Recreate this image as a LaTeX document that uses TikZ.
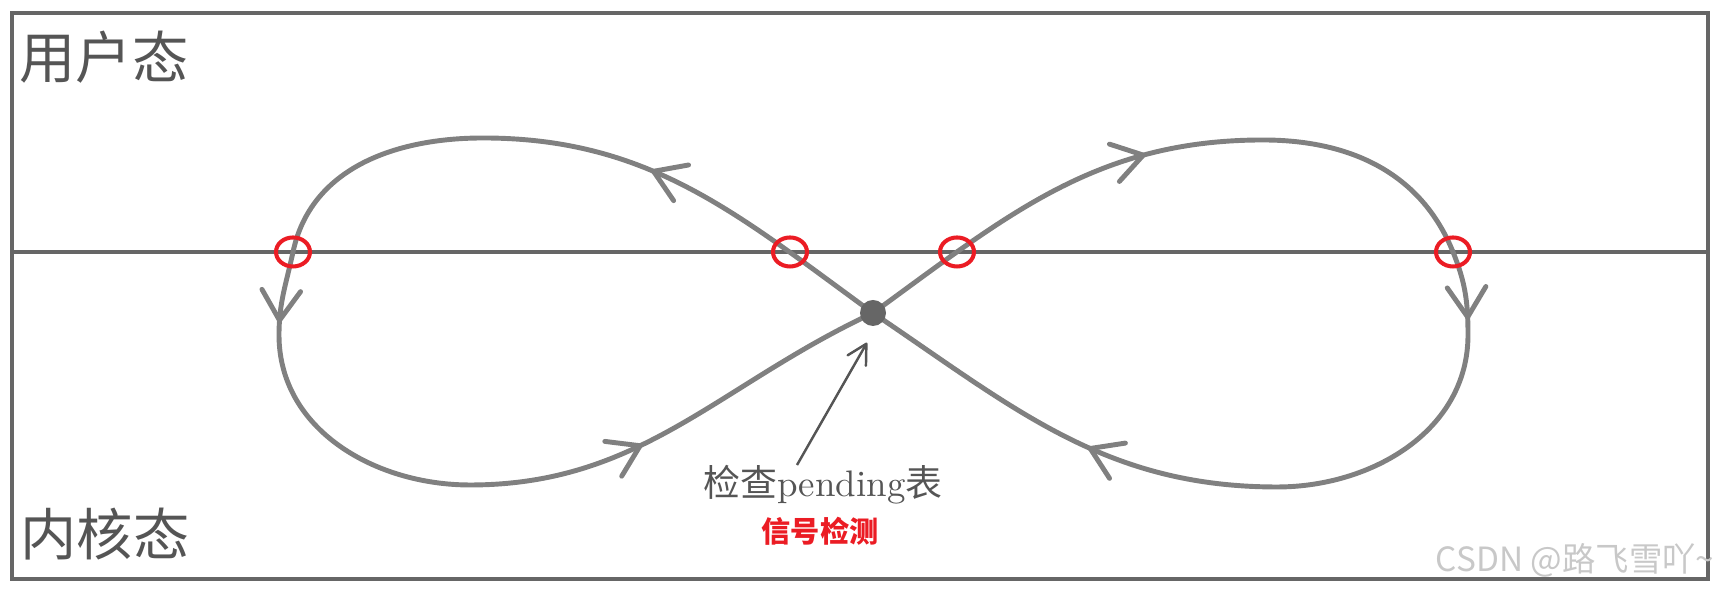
\documentclass[tikz,border=0pt]{standalone}
\usepackage{fontspec}
\newfontfamily\cjk{Noto Sans CJK SC}
\usepackage{xcolor}
\usepackage{tikz}
\usetikzlibrary{arrows.meta, decorations.markings}
\definecolor{linegray}{RGB}{128,128,128}
\definecolor{framegray}{RGB}{102,102,102}
\definecolor{inkgray}{RGB}{85,85,85}
\definecolor{markred}{RGB}{235,28,36}
\definecolor{markgray}{RGB}{200,200,200}
\newcommand{\barb}{\arrow{Straight Barb[length=8.5pt,width=11pt,round]}}

\begin{document}
\begin{tikzpicture}[
  orbit/.style={linegray, line width=1.4pt, line cap=round, line join=round},
  ring/.style={markred, line width=1.15pt},
  tag/.style={inner sep=0pt}
]
\useasboundingbox (0,0) rectangle (17.2,5.9);
\draw[framegray, line width=1.4pt] (0.12,0.11) rectangle (17.08,5.77);
\draw[framegray, line width=1.1pt] (0.12,3.38) -- (17.08,3.38);

\coordinate (mid) at (8.73,2.77);
\coordinate (xa) at (2.93,3.38);
\coordinate (xb) at (7.90,3.38);
\coordinate (xc) at (9.57,3.38);
\coordinate (xd) at (14.53,3.38);
\coordinate (ltop) at (4.83,4.52);
\coordinate (lside) at (2.79,2.55);
\coordinate (lbot) at (4.70,1.05);
\coordinate (rtop) at (12.63,4.50);
\coordinate (rside) at (14.68,2.55);
\coordinate (rbot) at (12.77,1.03);

\draw[orbit, postaction={decorate, decoration={markings,
    mark=at position 0.179 with {\barb},
    mark=at position 0.508 with {\barb},
    mark=at position 0.82 with {\barb}}}]
  (mid) to[out=144, in=0] (ltop) to[out=180, in=78] (xa) to[out=258, in=90] (lside)
  to[out=270, in=180] (lbot) to[out=0, in=205] (mid);
\draw[orbit, postaction={decorate, decoration={markings,
    mark=at position 0.215 with {\barb},
    mark=at position 0.502 with {\barb},
    mark=at position 0.828 with {\barb}}}]
  (mid) to[out=36, in=180] (rtop) to[out=0, in=112] (xd) to[out=292, in=90] (rside)
  to[out=270, in=0] (rbot) to[out=180, in=-34] (mid);

\foreach \p in {xa, xb, xc, xd}
  \draw[ring] (\p) ellipse[x radius=0.17, y radius=0.145];

\node[circle, fill=framegray, inner sep=0pt, minimum size=0.26cm] (hub) at (mid) {};

\node[tag, anchor=west, inkgray, font=\cjk\fontsize{16pt}{16pt}\selectfont] (user) at (0.19,5.33) {用户态};
\node[tag, anchor=west, inkgray, font=\cjk\fontsize{16pt}{16pt}\selectfont] (kernel) at (0.20,0.56) {内核态};
\node[tag, anchor=base, inkgray, font=\fontsize{10.5pt}{10.5pt}\selectfont] (chk) at (8.23,0.93) {{\cjk 检查}pending{\cjk 表}};
\node[tag, anchor=base, markred, font=\cjk\bfseries\fontsize{8.3pt}{8.3pt}\selectfont] (sig) at (8.20,0.47) {信号检测};
\node[tag, anchor=base east, markgray, font=\cjk\fontsize{9.5pt}{9.5pt}\selectfont] (wm) at (17.15,0.18) {CSDN @路飞雪吖\textasciitilde};

\draw[inkgray, line width=0.7pt, -{Straight Barb[length=5.5pt,width=6pt,round]}]
  ([xshift=-0.26cm]chk.north) -- ([shift={(-0.06,-0.16)}]hub.south);
\end{tikzpicture}
\end{document}
